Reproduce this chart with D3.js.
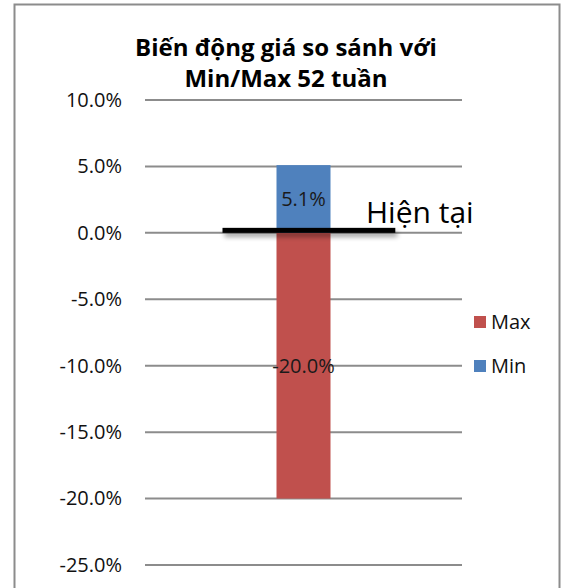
<!DOCTYPE html>
<html>
<head>
<meta charset="utf-8">
<script src="https://cdn.jsdelivr.net/npm/d3@7"></script>
<style>
  body { margin: 0; background: #fff; }
  text { font-family: "Open Sans", "Noto Sans", sans-serif; }
</style>
</head>
<body>
<script>
var w = 565;
var h = 588;

// data
var categories = ["52 tuần"];
var seriesNames = ["Max", "Min"];
var maxValues = [-20.0];
var minValues = [5.1];
var currentValue = [0];
var tickValues = [10, 5, 0, -5, -10, -15, -20, -25];
var colors = {Max: "#c0504d", Min: "#4f81bd"};

var svg = d3.select("body")
    .append("svg")
    .attr("width", w)
    .attr("height", h);

// chart frame
svg.append("rect")
    .attr("x", 14.5)
    .attr("y", 4.5)
    .attr("width", 545)
    .attr("height", 600)
    .attr("fill", "none")
    .attr("stroke", "#8c8c8c")
    .attr("stroke-width", 2);

// title
var title = svg.append("text")
    .attr("text-anchor", "middle")
    .attr("font-size", 24)
    .attr("font-weight", "bold")
    .attr("fill", "#000");
title.append("tspan").attr("x", 286).attr("y", 56).text("Biến động giá so sánh với");
title.append("tspan").attr("x", 286).attr("y", 87).text("Min/Max 52 tuần");

var xScale = d3.scaleBand()
    .domain(categories)
    .range([145, 462])
    .paddingInner(0)
    .paddingOuter(2.435);

var yScale = d3.scaleLinear()
    .domain([-25, 10])
    .range([565, 100]);

// gridlines
svg.selectAll(".grid")
    .data(tickValues)
    .enter()
    .append("line")
    .attr("class", "grid")
    .attr("x1", 145)
    .attr("x2", 462)
    .attr("y1", function (d) { return yScale(d); })
    .attr("y2", function (d) { return yScale(d); })
    .attr("stroke", "#8c8c8c")
    .attr("stroke-width", 2);

// y axis labels
var yAxis = d3.axisLeft(yScale)
    .tickValues(tickValues)
    .tickSize(0)
    .tickPadding(0)
    .tickFormat(function (d) { return d.toFixed(1) + "%"; });

var yg = svg.append("g")
    .attr("transform", "translate(122,0)")
    .call(yAxis);
yg.select(".domain").remove();
yg.selectAll("text")
    .attr("font-size", 20)
    .attr("font-family", "'Open Sans', 'Noto Sans', sans-serif")
    .attr("fill", "#111");

// bars (Min positive, Max negative, both from zero)
var barData = [];
categories.forEach(function (c, i) {
    barData.push({cat: c, name: "Max", v: maxValues[i]});
    barData.push({cat: c, name: "Min", v: minValues[i]});
});

svg.selectAll(".bar")
    .data(barData)
    .enter()
    .append("rect")
    .attr("class", "bar")
    .attr("x", function (d) { return xScale(d.cat); })
    .attr("width", xScale.bandwidth())
    .attr("y", function (d) { return yScale(Math.max(0, d.v)); })
    .attr("height", function (d) { return Math.abs(yScale(d.v) - yScale(0)); })
    .attr("fill", function (d) { return colors[d.name]; });

svg.selectAll(".bar-text")
    .data(barData)
    .enter()
    .append("text")
    .attr("class", "bar-text")
    .attr("x", function (d) { return xScale(d.cat) + xScale.bandwidth() / 2; })
    .attr("y", function (d) { return (yScale(d.v) + yScale(0)) / 2 + 7; })
    .attr("text-anchor", "middle")
    .attr("font-size", 20)
    .attr("fill", "#1a1a1a")
    .text(function (d) { return d.v.toFixed(1) + "%"; });

// "Hiện tại" marker line with soft shadow
var defs = svg.append("defs");
var f = defs.append("filter").attr("id", "shadow")
    .attr("filterUnits", "userSpaceOnUse")
    .attr("x", 0).attr("y", 0).attr("width", w).attr("height", h);
f.append("feGaussianBlur").attr("in", "SourceAlpha").attr("stdDeviation", 2.5).attr("result", "b");
f.append("feOffset").attr("in", "b").attr("dx", 2).attr("dy", 4).attr("result", "o");
f.append("feComponentTransfer").attr("in", "o").attr("result", "s")
    .append("feFuncA").attr("type", "linear").attr("slope", 0.4);
var fm = f.append("feMerge");
fm.append("feMergeNode").attr("in", "s");
fm.append("feMergeNode").attr("in", "SourceGraphic");

var bw = xScale.bandwidth();
svg.selectAll(".current")
    .data(currentValue)
    .enter()
    .append("rect")
    .attr("class", "current")
    .attr("x", xScale(categories[0]) - bw)
    .attr("width", bw * 3.2)
    .attr("y", function (d) { return yScale(d) - 5; })
    .attr("height", 5)
    .attr("fill", "#000")
    .attr("filter", "url(#shadow)");

svg.append("text")
    .attr("x", 366)
    .attr("y", 223)
    .attr("font-size", 30)
    .attr("fill", "#000")
    .text("Hiện tại");

// legend
var legend = svg.selectAll(".legend")
    .data(seriesNames)
    .enter()
    .append("g")
    .attr("class", "legend")
    .attr("transform", function (d, i) { return "translate(474," + (316 + i * 44) + ")"; });

legend.append("rect")
    .attr("width", 12)
    .attr("height", 12)
    .attr("fill", function (d) { return colors[d]; });

legend.append("text")
    .attr("x", 17)
    .attr("y", 13)
    .attr("font-size", 20)
    .attr("fill", "#111")
    .text(function (d) { return d; });
</script>
</body>
</html>
